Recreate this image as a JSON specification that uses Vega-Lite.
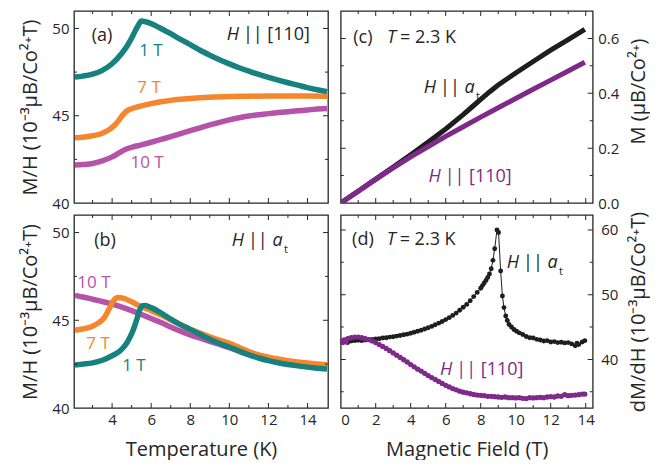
{
"$schema": "https://vega.github.io/schema/vega-lite/v6.json",
"padding": {"left": 20, "top": 10, "right": 0, "bottom": 0},
"background": "white",
"columns": 2,
"spacing": {"row": 12, "column": 12.7},
"bounds": "flush",
"config": {
 "font": "Open Sans",
 "view": {"stroke": "#262626", "strokeWidth": 1.3},
 "axis": {"domain": false, "grid": false, "ticks": false, "labelFont": "Open Sans", "labelFontSize": 15, "labelColor": "#262626", "titleFont": "Open Sans", "titleFontSize": 20, "titleFontWeight": "normal", "titleColor": "#262626"},
 "text": {"font": "Open Sans"}
},
"datasets": {
 "txab": [{"t":3,"k":"minor"},{"t":4,"k":"major"},{"t":5,"k":"minor"},{"t":6,"k":"major"},{"t":7,"k":"minor"},{"t":8,"k":"major"},{"t":9,"k":"minor"},{"t":10,"k":"major"},{"t":11,"k":"minor"},{"t":12,"k":"major"},{"t":13,"k":"minor"},{"t":14,"k":"major"}],
 "tyab": [{"t":42.5,"k":"minor"},{"t":45,"k":"major"},{"t":47.5,"k":"minor"},{"t":50,"k":"major"}],
 "txcd": [{"t":1,"k":"minor"},{"t":2,"k":"major"},{"t":3,"k":"minor"},{"t":4,"k":"major"},{"t":5,"k":"minor"},{"t":6,"k":"major"},{"t":7,"k":"minor"},{"t":8,"k":"major"},{"t":9,"k":"minor"},{"t":10,"k":"major"},{"t":11,"k":"minor"},{"t":12,"k":"major"},{"t":13,"k":"minor"},{"t":14,"k":"major"}],
 "tyc": [{"t":0.1,"k":"minor"},{"t":0.2,"k":"major"},{"t":0.3,"k":"minor"},{"t":0.4,"k":"major"},{"t":0.5,"k":"minor"},{"t":0.6,"k":"major"}],
 "tyd": [{"t":35,"k":"minor"},{"t":40,"k":"major"},{"t":45,"k":"minor"},{"t":50,"k":"major"},{"t":55,"k":"minor"},{"t":60,"k":"major"}],
 "a1": [{"T":2.1,"v":47.22},{"T":2.5,"v":47.27},{"T":3.0,"v":47.38},{"T":3.5,"v":47.6},{"T":4.0,"v":47.98},{"T":4.5,"v":48.58},{"T":4.8,"v":49.05},{"T":5.0,"v":49.45},{"T":5.2,"v":49.9},{"T":5.35,"v":50.2},{"T":5.5,"v":50.42},{"T":5.65,"v":50.4},{"T":6.0,"v":50.28},{"T":6.5,"v":50.0},{"T":7.0,"v":49.7},{"T":7.5,"v":49.38},{"T":8.0,"v":49.07},{"T":8.5,"v":48.75},{"T":9.0,"v":48.47},{"T":9.5,"v":48.21},{"T":10.0,"v":47.97},{"T":10.5,"v":47.75},{"T":11.0,"v":47.55},{"T":11.5,"v":47.37},{"T":12.0,"v":47.2},{"T":12.5,"v":47.04},{"T":13.0,"v":46.89},{"T":13.5,"v":46.75},{"T":14.0,"v":46.61},{"T":14.5,"v":46.49},{"T":15.0,"v":46.38}],
 "a7": [{"T":2.1,"v":43.74},{"T":2.5,"v":43.77},{"T":3.0,"v":43.85},{"T":3.5,"v":44.0},{"T":3.8,"v":44.17},{"T":4.1,"v":44.43},{"T":4.35,"v":44.75},{"T":4.55,"v":45.05},{"T":4.75,"v":45.27},{"T":5.0,"v":45.4},{"T":5.5,"v":45.56},{"T":6.0,"v":45.69},{"T":6.5,"v":45.8},{"T":7.0,"v":45.88},{"T":7.5,"v":45.94},{"T":8.0,"v":45.99},{"T":9.0,"v":46.06},{"T":10.0,"v":46.1},{"T":11.0,"v":46.12},{"T":12.0,"v":46.13},{"T":13.0,"v":46.13},{"T":14.0,"v":46.13},{"T":15.0,"v":46.12}],
 "a10": [{"T":2.1,"v":42.17},{"T":2.5,"v":42.2},{"T":3.0,"v":42.26},{"T":3.5,"v":42.41},{"T":4.0,"v":42.64},{"T":4.4,"v":42.9},{"T":4.7,"v":43.08},{"T":5.0,"v":43.19},{"T":5.5,"v":43.33},{"T":6.0,"v":43.48},{"T":6.5,"v":43.64},{"T":7.0,"v":43.8},{"T":7.5,"v":43.97},{"T":8.0,"v":44.14},{"T":8.5,"v":44.31},{"T":9.0,"v":44.47},{"T":9.5,"v":44.62},{"T":10.0,"v":44.76},{"T":10.5,"v":44.88},{"T":11.0,"v":44.98},{"T":11.5,"v":45.06},{"T":12.0,"v":45.12},{"T":12.5,"v":45.18},{"T":13.0,"v":45.23},{"T":13.5,"v":45.28},{"T":14.0,"v":45.33},{"T":14.5,"v":45.38},{"T":15.0,"v":45.42}],
 "b1": [{"T":2.1,"v":42.45},{"T":2.5,"v":42.5},{"T":3.0,"v":42.57},{"T":3.5,"v":42.72},{"T":4.0,"v":42.98},{"T":4.4,"v":43.25},{"T":4.7,"v":43.62},{"T":4.9,"v":44.0},{"T":5.1,"v":44.5},{"T":5.25,"v":45.0},{"T":5.4,"v":45.55},{"T":5.55,"v":45.83},{"T":5.7,"v":45.84},{"T":6.0,"v":45.72},{"T":6.5,"v":45.42},{"T":7.0,"v":45.07},{"T":7.5,"v":44.75},{"T":8.0,"v":44.48},{"T":8.5,"v":44.2},{"T":9.0,"v":43.92},{"T":9.5,"v":43.68},{"T":10.0,"v":43.48},{"T":10.5,"v":43.25},{"T":11.0,"v":43.03},{"T":11.5,"v":42.85},{"T":12.0,"v":42.7},{"T":12.5,"v":42.58},{"T":13.0,"v":42.48},{"T":13.5,"v":42.4},{"T":14.0,"v":42.33},{"T":14.5,"v":42.27},{"T":15.0,"v":42.22}],
 "b7": [{"T":2.1,"v":44.43},{"T":2.5,"v":44.5},{"T":3.0,"v":44.66},{"T":3.3,"v":44.85},{"T":3.6,"v":45.15},{"T":3.85,"v":45.65},{"T":4.0,"v":46.0},{"T":4.15,"v":46.22},{"T":4.3,"v":46.3},{"T":4.6,"v":46.25},{"T":5.0,"v":46.05},{"T":5.4,"v":45.82},{"T":6.0,"v":45.55},{"T":6.5,"v":45.3},{"T":7.0,"v":45.03},{"T":7.5,"v":44.75},{"T":8.0,"v":44.48},{"T":8.5,"v":44.27},{"T":9.0,"v":44.06},{"T":9.5,"v":43.87},{"T":10.0,"v":43.68},{"T":10.5,"v":43.45},{"T":11.0,"v":43.22},{"T":11.5,"v":43.03},{"T":12.0,"v":42.9},{"T":12.5,"v":42.79},{"T":13.0,"v":42.7},{"T":13.5,"v":42.62},{"T":14.0,"v":42.56},{"T":14.5,"v":42.51},{"T":15.0,"v":42.47}],
 "b10": [{"T":2.1,"v":46.42},{"T":2.5,"v":46.33},{"T":3.0,"v":46.2},{"T":3.5,"v":46.07},{"T":4.0,"v":45.92},{"T":4.5,"v":45.75},{"T":5.0,"v":45.55},{"T":5.5,"v":45.33},{"T":6.0,"v":45.1},{"T":6.5,"v":44.87},{"T":7.0,"v":44.62},{"T":7.5,"v":44.38},{"T":8.0,"v":44.17},{"T":8.5,"v":43.98},{"T":9.0,"v":43.8},{"T":9.5,"v":43.62},{"T":10.0,"v":43.44},{"T":10.5,"v":43.23},{"T":11.0,"v":43.05},{"T":11.5,"v":42.89},{"T":12.0,"v":42.76},{"T":12.5,"v":42.65},{"T":13.0,"v":42.56},{"T":13.5,"v":42.49},{"T":14.0,"v":42.43},{"T":14.5,"v":42.38},{"T":15.0,"v":42.34}],
 "cat": [{"B":0,"M":0},{"B":1,"M":0.043},{"B":2,"M":0.087},{"B":3,"M":0.131},{"B":4,"M":0.176},{"B":5,"M":0.222},{"B":6,"M":0.27},{"B":7,"M":0.322},{"B":7.5,"M":0.35},{"B":8,"M":0.378},{"B":8.5,"M":0.405},{"B":9,"M":0.43},{"B":9.5,"M":0.452},{"B":10,"M":0.474},{"B":11,"M":0.516},{"B":12,"M":0.557},{"B":13,"M":0.596},{"B":13.95,"M":0.633}],
 "c110": [{"B":0,"M":0},{"B":1,"M":0.0432},{"B":2,"M":0.0862},{"B":3,"M":0.128},{"B":4,"M":0.168},{"B":5,"M":0.206},{"B":6,"M":0.243},{"B":7,"M":0.278},{"B":8,"M":0.313},{"B":9,"M":0.347},{"B":10,"M":0.381},{"B":11,"M":0.415},{"B":12,"M":0.448},{"B":13,"M":0.481},{"B":13.95,"M":0.513}],
 "dat": [{"B":0.0,"v":42.7},{"B":0.2,"v":42.9},{"B":0.4,"v":42.6},{"B":0.6,"v":42.85},{"B":0.8,"v":42.9},{"B":1.0,"v":42.95},{"B":1.2,"v":42.9},{"B":1.4,"v":43.0},{"B":1.6,"v":43.05},{"B":1.8,"v":43.1},{"B":2.0,"v":43.15},{"B":2.2,"v":43.2},{"B":2.4,"v":43.3},{"B":2.6,"v":43.35},{"B":2.8,"v":43.45},{"B":3.0,"v":43.5},{"B":3.2,"v":43.6},{"B":3.4,"v":43.7},{"B":3.6,"v":43.8},{"B":3.8,"v":43.9},{"B":4.0,"v":44.05},{"B":4.2,"v":44.2},{"B":4.4,"v":44.35},{"B":4.6,"v":44.5},{"B":4.8,"v":44.7},{"B":5.0,"v":44.9},{"B":5.2,"v":45.1},{"B":5.4,"v":45.35},{"B":5.6,"v":45.6},{"B":5.8,"v":45.85},{"B":6.0,"v":46.15},{"B":6.2,"v":46.45},{"B":6.4,"v":46.8},{"B":6.6,"v":47.15},{"B":6.8,"v":47.6},{"B":7.0,"v":48.05},{"B":7.2,"v":48.5},{"B":7.4,"v":49.05},{"B":7.6,"v":49.7},{"B":7.8,"v":50.35},{"B":8.0,"v":51.0},{"B":8.1,"v":51.4},{"B":8.2,"v":51.8},{"B":8.3,"v":52.2},{"B":8.4,"v":52.65},{"B":8.5,"v":53.2},{"B":8.6,"v":54.0},{"B":8.7,"v":55.3},{"B":8.8,"v":57.1},{"B":8.93,"v":60.0},{"B":9.02,"v":59.6},{"B":9.14,"v":53.65},{"B":9.24,"v":49.8},{"B":9.33,"v":48.0},{"B":9.43,"v":46.7},{"B":9.52,"v":46.0},{"B":9.62,"v":45.4},{"B":9.76,"v":45.0},{"B":9.9,"v":44.63},{"B":10.05,"v":44.35},{"B":10.2,"v":44.1},{"B":10.4,"v":43.85},{"B":10.6,"v":43.55},{"B":10.8,"v":43.35},{"B":11.0,"v":43.3},{"B":11.2,"v":43.1},{"B":11.4,"v":43.0},{"B":11.6,"v":42.85},{"B":11.8,"v":42.9},{"B":12.0,"v":42.7},{"B":12.2,"v":42.75},{"B":12.4,"v":42.6},{"B":12.6,"v":42.65},{"B":12.8,"v":42.55},{"B":13.0,"v":42.6},{"B":13.2,"v":42.4},{"B":13.4,"v":42.1},{"B":13.5,"v":42.5},{"B":13.6,"v":42.3},{"B":13.8,"v":42.7},{"B":13.95,"v":42.9}],
 "d110": [{"B":0.0,"v":42.85},{"B":0.1,"v":42.6},{"B":0.2,"v":43.0},{"B":0.3,"v":42.7},{"B":0.4,"v":43.2},{"B":0.6,"v":43.35},{"B":0.8,"v":43.45},{"B":1.0,"v":43.45},{"B":1.2,"v":43.35},{"B":1.4,"v":43.2},{"B":1.6,"v":43.05},{"B":1.8,"v":42.85},{"B":2.0,"v":42.6},{"B":2.2,"v":42.3},{"B":2.4,"v":42.0},{"B":2.6,"v":41.7},{"B":2.8,"v":41.35},{"B":3.0,"v":41.0},{"B":3.2,"v":40.65},{"B":3.4,"v":40.3},{"B":3.6,"v":39.95},{"B":3.8,"v":39.6},{"B":4.0,"v":39.2},{"B":4.2,"v":38.85},{"B":4.4,"v":38.5},{"B":4.6,"v":38.2},{"B":4.8,"v":37.85},{"B":5.0,"v":37.5},{"B":5.2,"v":37.2},{"B":5.4,"v":36.9},{"B":5.6,"v":36.6},{"B":5.8,"v":36.3},{"B":6.0,"v":36.0},{"B":6.2,"v":35.75},{"B":6.4,"v":35.5},{"B":6.6,"v":35.3},{"B":6.8,"v":35.1},{"B":7.0,"v":34.95},{"B":7.2,"v":34.85},{"B":7.4,"v":34.7},{"B":7.6,"v":34.6},{"B":7.8,"v":34.5},{"B":8.0,"v":34.45},{"B":8.2,"v":34.4},{"B":8.4,"v":34.3},{"B":8.6,"v":34.3},{"B":8.8,"v":34.25},{"B":9.0,"v":34.2},{"B":9.2,"v":34.15},{"B":9.4,"v":34.2},{"B":9.6,"v":34.1},{"B":9.8,"v":34.1},{"B":10.0,"v":34.05},{"B":10.2,"v":34.1},{"B":10.4,"v":34.0},{"B":10.6,"v":33.95},{"B":10.8,"v":34.1},{"B":11.0,"v":34.05},{"B":11.2,"v":34.1},{"B":11.4,"v":34.15},{"B":11.6,"v":34.1},{"B":11.8,"v":34.2},{"B":12.0,"v":34.25},{"B":12.2,"v":34.2},{"B":12.4,"v":34.35},{"B":12.6,"v":34.3},{"B":12.8,"v":34.55},{"B":13.0,"v":34.4},{"B":13.2,"v":34.45},{"B":13.4,"v":34.5},{"B":13.6,"v":34.55},{"B":13.8,"v":34.65},{"B":13.95,"v":34.65}]
},
"concat": [
 {
  "width": 254, "height": 192,
  "layer": [
   {"data": {"name": "a10"}, "mark": {"type": "line", "strokeWidth": 5.5, "color": "#b553a9", "interpolate": "monotone", "clip": true},
    "encoding": {
     "x": {"field": "T", "type": "quantitative", "scale": {"domain": [2.05, 15.05], "nice": false, "zero": false}, "axis": null},
     "y": {"field": "v", "type": "quantitative", "scale": {"domain": [40, 51], "nice": false, "zero": false}, "axis": {"orient": "left", "values": [40, 45, 50], "labelPadding": 5, "title": "M/H (10⁻³μB/Co²⁺T)", "titlePadding": 11}}}},
   {"data": {"name": "a7"}, "mark": {"type": "line", "strokeWidth": 5.5, "color": "#f5862d", "interpolate": "monotone", "clip": true},
    "encoding": {"x": {"field": "T", "type": "quantitative", "axis": null}, "y": {"field": "v", "type": "quantitative", "axis": null}}},
   {"data": {"name": "a1"}, "mark": {"type": "line", "strokeWidth": 5.5, "color": "#16817f", "interpolate": "monotone", "clip": true},
    "encoding": {"x": {"field": "T", "type": "quantitative", "axis": null}, "y": {"field": "v", "type": "quantitative", "axis": null}}},
   {"data": {"name": "txab"}, "mark": {"type": "tick", "orient": "vertical", "thickness": 1, "color": "#262626", "opacity": 1, "clip": true},
    "encoding": {"x": {"field": "t", "type": "quantitative", "axis": null}, "y": {"datum": 40, "type": "quantitative", "axis": null}, "size": {"field": "k", "type": "ordinal", "scale": {"domain": ["major", "minor"], "range": [10, 6]}, "legend": null}}},
   {"data": {"name": "txab"}, "mark": {"type": "tick", "orient": "vertical", "thickness": 1, "color": "#262626", "opacity": 1, "clip": true},
    "encoding": {"x": {"field": "t", "type": "quantitative", "axis": null}, "y": {"datum": 51, "type": "quantitative", "axis": null}, "size": {"field": "k", "type": "ordinal", "scale": {"domain": ["major", "minor"], "range": [10, 6]}, "legend": null}}},
   {"data": {"name": "tyab"}, "mark": {"type": "tick", "orient": "horizontal", "thickness": 1, "color": "#262626", "opacity": 1, "clip": true},
    "encoding": {"y": {"field": "t", "type": "quantitative", "axis": null}, "x": {"datum": 2.05, "type": "quantitative", "axis": null}, "size": {"field": "k", "type": "ordinal", "scale": {"domain": ["major", "minor"], "range": [10, 6]}, "legend": null}}},
   {"data": {"name": "tyab"}, "mark": {"type": "tick", "orient": "horizontal", "thickness": 1, "color": "#262626", "opacity": 1, "clip": true},
    "encoding": {"y": {"field": "t", "type": "quantitative", "axis": null}, "x": {"datum": 15.05, "type": "quantitative", "axis": null}, "size": {"field": "k", "type": "ordinal", "scale": {"domain": ["major", "minor"], "range": [10, 6]}, "legend": null}}},
   {"data": {"values": [{}]}, "mark": {"type": "text", "fontSize": 18, "color": "#262626"}, "encoding": {"x": {"datum": 3.48, "type": "quantitative", "axis": null}, "y": {"datum": 49.55, "type": "quantitative", "axis": null}, "text": {"value": "(a)"}}},
   {"data": {"values": [{}]}, "mark": {"type": "text", "fontSize": 18, "color": "#262626", "fontStyle": "italic", "align": "right"}, "encoding": {"x": {"datum": 10.49, "type": "quantitative", "axis": null}, "y": {"datum": 49.61, "type": "quantitative", "axis": null}, "text": {"value": "H"}}},
   {"data": {"values": [{}]}, "mark": {"type": "text", "fontSize": 18, "color": "#262626", "align": "left", "dx": 4}, "encoding": {"x": {"datum": 10.49, "type": "quantitative", "axis": null}, "y": {"datum": 49.61, "type": "quantitative", "axis": null}, "text": {"value": "|| [110]"}}},
   {"data": {"values": [{}]}, "mark": {"type": "text", "fontSize": 17, "color": "#16817f"}, "encoding": {"x": {"datum": 5.99, "type": "quantitative", "axis": null}, "y": {"datum": 48.69, "type": "quantitative", "axis": null}, "text": {"value": "1 T"}}},
   {"data": {"values": [{}]}, "mark": {"type": "text", "fontSize": 17, "color": "#f5862d"}, "encoding": {"x": {"datum": 5.89, "type": "quantitative", "axis": null}, "y": {"datum": 46.57, "type": "quantitative", "axis": null}, "text": {"value": "7 T"}}},
   {"data": {"values": [{}]}, "mark": {"type": "text", "fontSize": 17, "color": "#b553a9"}, "encoding": {"x": {"datum": 5.79, "type": "quantitative", "axis": null}, "y": {"datum": 42.28, "type": "quantitative", "axis": null}, "text": {"value": "10 T"}}}
  ],
  "resolve": {"axis": {"x": "independent", "y": "independent"}}
 },
 {
  "width": 252, "height": 192,
  "layer": [
   {"data": {"name": "cat"}, "mark": {"type": "line", "strokeWidth": 5, "color": "#1e1e1e", "clip": true},
    "encoding": {
     "x": {"field": "B", "type": "quantitative", "scale": {"domain": [0, 14.4], "nice": false, "zero": false}, "axis": null},
     "y": {"field": "M", "type": "quantitative", "scale": {"domain": [0, 0.7], "nice": false, "zero": false}, "axis": {"orient": "right", "values": [0, 0.2, 0.4, 0.6], "format": ".1f", "labelPadding": 5, "title": "M (μB/Co²⁺)", "titleAngle": 270, "titleBaseline": "top", "titlePadding": 10, "titleY": 80}}}},
   {"data": {"name": "c110"}, "mark": {"type": "line", "strokeWidth": 5, "color": "#7d2a8b", "clip": true},
    "encoding": {"x": {"field": "B", "type": "quantitative", "axis": null}, "y": {"field": "M", "type": "quantitative", "axis": null}}},
   {"data": {"name": "txcd"}, "mark": {"type": "tick", "orient": "vertical", "thickness": 1, "color": "#262626", "opacity": 1, "clip": true},
    "encoding": {"x": {"field": "t", "type": "quantitative", "axis": null}, "y": {"datum": 0, "type": "quantitative", "axis": null}, "size": {"field": "k", "type": "ordinal", "scale": {"domain": ["major", "minor"], "range": [10, 6]}, "legend": null}}},
   {"data": {"name": "txcd"}, "mark": {"type": "tick", "orient": "vertical", "thickness": 1, "color": "#262626", "opacity": 1, "clip": true},
    "encoding": {"x": {"field": "t", "type": "quantitative", "axis": null}, "y": {"datum": 0.7, "type": "quantitative", "axis": null}, "size": {"field": "k", "type": "ordinal", "scale": {"domain": ["major", "minor"], "range": [10, 6]}, "legend": null}}},
   {"data": {"name": "tyc"}, "mark": {"type": "tick", "orient": "horizontal", "thickness": 1, "color": "#262626", "opacity": 1, "clip": true},
    "encoding": {"y": {"field": "t", "type": "quantitative", "axis": null}, "x": {"datum": 0, "type": "quantitative", "axis": null}, "size": {"field": "k", "type": "ordinal", "scale": {"domain": ["major", "minor"], "range": [10, 6]}, "legend": null}}},
   {"data": {"name": "tyc"}, "mark": {"type": "tick", "orient": "horizontal", "thickness": 1, "color": "#262626", "opacity": 1, "clip": true},
    "encoding": {"y": {"field": "t", "type": "quantitative", "axis": null}, "x": {"datum": 14.4, "type": "quantitative", "axis": null}, "size": {"field": "k", "type": "ordinal", "scale": {"domain": ["major", "minor"], "range": [10, 6]}, "legend": null}}},
   {"data": {"values": [{}]}, "mark": {"type": "text", "fontSize": 18, "color": "#262626"}, "encoding": {"x": {"datum": 1.27, "type": "quantitative", "axis": null}, "y": {"datum": 0.601, "type": "quantitative", "axis": null}, "text": {"value": "(c)"}}},
   {"data": {"values": [{}]}, "mark": {"type": "text", "fontSize": 18, "color": "#262626", "fontStyle": "italic", "align": "right"}, "encoding": {"x": {"datum": 3.16, "type": "quantitative", "axis": null}, "y": {"datum": 0.601, "type": "quantitative", "axis": null}, "text": {"value": "T"}}},
   {"data": {"values": [{}]}, "mark": {"type": "text", "fontSize": 18, "color": "#262626", "align": "left", "dx": 4}, "encoding": {"x": {"datum": 3.16, "type": "quantitative", "axis": null}, "y": {"datum": 0.601, "type": "quantitative", "axis": null}, "text": {"value": "= 2.3 K"}}},
   {"data": {"values": [{}]}, "mark": {"type": "text", "fontSize": 18, "color": "#1e1e1e", "fontStyle": "italic", "align": "right"}, "encoding": {"x": {"datum": 5.45, "type": "quantitative", "axis": null}, "y": {"datum": 0.419, "type": "quantitative", "axis": null}, "text": {"value": "H"}}},
   {"data": {"values": [{}]}, "mark": {"type": "text", "fontSize": 18, "color": "#1e1e1e", "align": "left", "dx": 4}, "encoding": {"x": {"datum": 5.45, "type": "quantitative", "axis": null}, "y": {"datum": 0.419, "type": "quantitative", "axis": null}, "text": {"value": "||"}}},
   {"data": {"values": [{}]}, "mark": {"type": "text", "fontSize": 18, "color": "#1e1e1e", "fontStyle": "italic", "align": "left", "dx": 28.5}, "encoding": {"x": {"datum": 5.45, "type": "quantitative", "axis": null}, "y": {"datum": 0.419, "type": "quantitative", "axis": null}, "text": {"value": "a"}}},
   {"data": {"values": [{}]}, "mark": {"type": "text", "fontSize": 11, "color": "#1e1e1e", "align": "left", "dx": 40, "dy": 9}, "encoding": {"x": {"datum": 5.45, "type": "quantitative", "axis": null}, "y": {"datum": 0.419, "type": "quantitative", "axis": null}, "text": {"value": "t"}}},
   {"data": {"values": [{}]}, "mark": {"type": "text", "fontSize": 18, "color": "#7d2a8b", "fontStyle": "italic", "align": "right"}, "encoding": {"x": {"datum": 5.71, "type": "quantitative", "axis": null}, "y": {"datum": 0.094, "type": "quantitative", "axis": null}, "text": {"value": "H"}}},
   {"data": {"values": [{}]}, "mark": {"type": "text", "fontSize": 18, "color": "#7d2a8b", "align": "left", "dx": 4}, "encoding": {"x": {"datum": 5.71, "type": "quantitative", "axis": null}, "y": {"datum": 0.094, "type": "quantitative", "axis": null}, "text": {"value": "|| [110]"}}}
  ],
  "resolve": {"axis": {"x": "independent", "y": "independent"}}
 },
 {
  "width": 254, "height": 193,
  "layer": [
   {"data": {"name": "b10"}, "mark": {"type": "line", "strokeWidth": 5.5, "color": "#b553a9", "interpolate": "monotone", "clip": true},
    "encoding": {
     "x": {"field": "T", "type": "quantitative", "scale": {"domain": [2.05, 15.05], "nice": false, "zero": false}, "axis": {"orient": "bottom", "values": [4, 6, 8, 10, 12, 14], "labelPadding": 4, "title": "Temperature (K)", "titlePadding": 12}},
     "y": {"field": "v", "type": "quantitative", "scale": {"domain": [40, 51], "nice": false, "zero": false}, "axis": {"orient": "left", "values": [40, 45, 50], "labelPadding": 5, "title": "M/H (10⁻³μB/Co²⁺T)", "titlePadding": 11}}}},
   {"data": {"name": "b7"}, "mark": {"type": "line", "strokeWidth": 5.5, "color": "#f5862d", "interpolate": "monotone", "clip": true},
    "encoding": {"x": {"field": "T", "type": "quantitative", "axis": null}, "y": {"field": "v", "type": "quantitative", "axis": null}}},
   {"data": {"name": "b1"}, "mark": {"type": "line", "strokeWidth": 5.5, "color": "#16817f", "interpolate": "monotone", "clip": true},
    "encoding": {"x": {"field": "T", "type": "quantitative", "axis": null}, "y": {"field": "v", "type": "quantitative", "axis": null}}},
   {"data": {"name": "txab"}, "mark": {"type": "tick", "orient": "vertical", "thickness": 1, "color": "#262626", "opacity": 1, "clip": true},
    "encoding": {"x": {"field": "t", "type": "quantitative", "axis": null}, "y": {"datum": 40, "type": "quantitative", "axis": null}, "size": {"field": "k", "type": "ordinal", "scale": {"domain": ["major", "minor"], "range": [10, 6]}, "legend": null}}},
   {"data": {"name": "txab"}, "mark": {"type": "tick", "orient": "vertical", "thickness": 1, "color": "#262626", "opacity": 1, "clip": true},
    "encoding": {"x": {"field": "t", "type": "quantitative", "axis": null}, "y": {"datum": 51, "type": "quantitative", "axis": null}, "size": {"field": "k", "type": "ordinal", "scale": {"domain": ["major", "minor"], "range": [10, 6]}, "legend": null}}},
   {"data": {"name": "tyab"}, "mark": {"type": "tick", "orient": "horizontal", "thickness": 1, "color": "#262626", "opacity": 1, "clip": true},
    "encoding": {"y": {"field": "t", "type": "quantitative", "axis": null}, "x": {"datum": 2.05, "type": "quantitative", "axis": null}, "size": {"field": "k", "type": "ordinal", "scale": {"domain": ["major", "minor"], "range": [10, 6]}, "legend": null}}},
   {"data": {"name": "tyab"}, "mark": {"type": "tick", "orient": "horizontal", "thickness": 1, "color": "#262626", "opacity": 1, "clip": true},
    "encoding": {"y": {"field": "t", "type": "quantitative", "axis": null}, "x": {"datum": 15.05, "type": "quantitative", "axis": null}, "size": {"field": "k", "type": "ordinal", "scale": {"domain": ["major", "minor"], "range": [10, 6]}, "legend": null}}},
   {"data": {"values": [{}]}, "mark": {"type": "text", "fontSize": 18, "color": "#262626"}, "encoding": {"x": {"datum": 3.64, "type": "quantitative", "axis": null}, "y": {"datum": 49.53, "type": "quantitative", "axis": null}, "text": {"value": "(b)"}}},
   {"data": {"values": [{}]}, "mark": {"type": "text", "fontSize": 18, "color": "#262626", "fontStyle": "italic", "align": "right"}, "encoding": {"x": {"datum": 10.75, "type": "quantitative", "axis": null}, "y": {"datum": 49.53, "type": "quantitative", "axis": null}, "text": {"value": "H"}}},
   {"data": {"values": [{}]}, "mark": {"type": "text", "fontSize": 18, "color": "#262626", "align": "left", "dx": 4}, "encoding": {"x": {"datum": 10.75, "type": "quantitative", "axis": null}, "y": {"datum": 49.53, "type": "quantitative", "axis": null}, "text": {"value": "||"}}},
   {"data": {"values": [{}]}, "mark": {"type": "text", "fontSize": 18, "color": "#262626", "fontStyle": "italic", "align": "left", "dx": 28.5}, "encoding": {"x": {"datum": 10.75, "type": "quantitative", "axis": null}, "y": {"datum": 49.53, "type": "quantitative", "axis": null}, "text": {"value": "a"}}},
   {"data": {"values": [{}]}, "mark": {"type": "text", "fontSize": 11, "color": "#262626", "align": "left", "dx": 40, "dy": 9}, "encoding": {"x": {"datum": 10.75, "type": "quantitative", "axis": null}, "y": {"datum": 49.53, "type": "quantitative", "axis": null}, "text": {"value": "t"}}},
   {"data": {"values": [{}]}, "mark": {"type": "text", "fontSize": 17, "color": "#b553a9"}, "encoding": {"x": {"datum": 3.07, "type": "quantitative", "axis": null}, "y": {"datum": 47.13, "type": "quantitative", "axis": null}, "text": {"value": "10 T"}}},
   {"data": {"values": [{}]}, "mark": {"type": "text", "fontSize": 17, "color": "#f5862d"}, "encoding": {"x": {"datum": 3.28, "type": "quantitative", "axis": null}, "y": {"datum": 43.64, "type": "quantitative", "axis": null}, "text": {"value": "7 T"}}},
   {"data": {"values": [{}]}, "mark": {"type": "text", "fontSize": 17, "color": "#16817f"}, "encoding": {"x": {"datum": 5.12, "type": "quantitative", "axis": null}, "y": {"datum": 42.38, "type": "quantitative", "axis": null}, "text": {"value": "1 T"}}}
  ],
  "resolve": {"axis": {"x": "independent", "y": "independent"}}
 },
 {
  "width": 252, "height": 193,
  "layer": [
   {"data": {"name": "dat"}, "mark": {"type": "line", "strokeWidth": 1, "color": "#1e1e1e", "clip": true},
    "encoding": {
     "x": {"field": "B", "type": "quantitative", "scale": {"domain": [0, 14.4], "nice": false, "zero": false}, "axis": {"orient": "bottom", "values": [0, 2, 4, 6, 8, 10, 12, 14], "labelPadding": 4, "title": "Magnetic Field (T)", "titlePadding": 12}},
     "y": {"field": "v", "type": "quantitative", "scale": {"domain": [32.5, 62.3], "nice": false, "zero": false}, "axis": {"orient": "right", "values": [40, 50, 60], "labelPadding": 8, "title": "dM/dH (10⁻³μB/Co²⁺T)", "titleAngle": 270, "titleBaseline": "top", "titlePadding": 11}}}},
   {"data": {"name": "dat"}, "mark": {"type": "circle", "size": 24, "opacity": 1, "color": "#1e1e1e", "clip": true},
    "encoding": {"x": {"field": "B", "type": "quantitative", "axis": null}, "y": {"field": "v", "type": "quantitative", "axis": null}}},
   {"data": {"name": "d110"}, "mark": {"type": "line", "strokeWidth": 2.5, "color": "#7d2a8b", "clip": true},
    "encoding": {"x": {"field": "B", "type": "quantitative", "axis": null}, "y": {"field": "v", "type": "quantitative", "axis": null}}},
   {"data": {"name": "d110"}, "mark": {"type": "circle", "size": 28, "opacity": 1, "color": "#7d2a8b", "clip": true},
    "encoding": {"x": {"field": "B", "type": "quantitative", "axis": null}, "y": {"field": "v", "type": "quantitative", "axis": null}}},
   {"data": {"name": "txcd"}, "mark": {"type": "tick", "orient": "vertical", "thickness": 1, "color": "#262626", "opacity": 1, "clip": true},
    "encoding": {"x": {"field": "t", "type": "quantitative", "axis": null}, "y": {"datum": 32.5, "type": "quantitative", "axis": null}, "size": {"field": "k", "type": "ordinal", "scale": {"domain": ["major", "minor"], "range": [10, 6]}, "legend": null}}},
   {"data": {"name": "txcd"}, "mark": {"type": "tick", "orient": "vertical", "thickness": 1, "color": "#262626", "opacity": 1, "clip": true},
    "encoding": {"x": {"field": "t", "type": "quantitative", "axis": null}, "y": {"datum": 62.3, "type": "quantitative", "axis": null}, "size": {"field": "k", "type": "ordinal", "scale": {"domain": ["major", "minor"], "range": [10, 6]}, "legend": null}}},
   {"data": {"name": "tyd"}, "mark": {"type": "tick", "orient": "horizontal", "thickness": 1, "color": "#262626", "opacity": 1, "clip": true},
    "encoding": {"y": {"field": "t", "type": "quantitative", "axis": null}, "x": {"datum": 0, "type": "quantitative", "axis": null}, "size": {"field": "k", "type": "ordinal", "scale": {"domain": ["major", "minor"], "range": [10, 6]}, "legend": null}}},
   {"data": {"name": "tyd"}, "mark": {"type": "tick", "orient": "horizontal", "thickness": 1, "color": "#262626", "opacity": 1, "clip": true},
    "encoding": {"y": {"field": "t", "type": "quantitative", "axis": null}, "x": {"datum": 14.4, "type": "quantitative", "axis": null}, "size": {"field": "k", "type": "ordinal", "scale": {"domain": ["major", "minor"], "range": [10, 6]}, "legend": null}}},
   {"data": {"values": [{}]}, "mark": {"type": "text", "fontSize": 18, "color": "#262626"}, "encoding": {"x": {"datum": 1.27, "type": "quantitative", "axis": null}, "y": {"datum": 58.44, "type": "quantitative", "axis": null}, "text": {"value": "(d)"}}},
   {"data": {"values": [{}]}, "mark": {"type": "text", "fontSize": 18, "color": "#262626", "fontStyle": "italic", "align": "right"}, "encoding": {"x": {"datum": 3.14, "type": "quantitative", "axis": null}, "y": {"datum": 58.44, "type": "quantitative", "axis": null}, "text": {"value": "T"}}},
   {"data": {"values": [{}]}, "mark": {"type": "text", "fontSize": 18, "color": "#262626", "align": "left", "dx": 4}, "encoding": {"x": {"datum": 3.14, "type": "quantitative", "axis": null}, "y": {"datum": 58.44, "type": "quantitative", "axis": null}, "text": {"value": "= 2.3 K"}}},
   {"data": {"values": [{}]}, "mark": {"type": "text", "fontSize": 18, "color": "#1e1e1e", "fontStyle": "italic", "align": "right"}, "encoding": {"x": {"datum": 10.19, "type": "quantitative", "axis": null}, "y": {"datum": 54.88, "type": "quantitative", "axis": null}, "text": {"value": "H"}}},
   {"data": {"values": [{}]}, "mark": {"type": "text", "fontSize": 18, "color": "#1e1e1e", "align": "left", "dx": 4}, "encoding": {"x": {"datum": 10.19, "type": "quantitative", "axis": null}, "y": {"datum": 54.88, "type": "quantitative", "axis": null}, "text": {"value": "||"}}},
   {"data": {"values": [{}]}, "mark": {"type": "text", "fontSize": 18, "color": "#1e1e1e", "fontStyle": "italic", "align": "left", "dx": 28.5}, "encoding": {"x": {"datum": 10.19, "type": "quantitative", "axis": null}, "y": {"datum": 54.88, "type": "quantitative", "axis": null}, "text": {"value": "a"}}},
   {"data": {"values": [{}]}, "mark": {"type": "text", "fontSize": 11, "color": "#1e1e1e", "align": "left", "dx": 40, "dy": 9}, "encoding": {"x": {"datum": 10.19, "type": "quantitative", "axis": null}, "y": {"datum": 54.88, "type": "quantitative", "axis": null}, "text": {"value": "t"}}},
   {"data": {"values": [{}]}, "mark": {"type": "text", "fontSize": 18, "color": "#7d2a8b", "fontStyle": "italic", "align": "right"}, "encoding": {"x": {"datum": 6.38, "type": "quantitative", "axis": null}, "y": {"datum": 38.35, "type": "quantitative", "axis": null}, "text": {"value": "H"}}},
   {"data": {"values": [{}]}, "mark": {"type": "text", "fontSize": 18, "color": "#7d2a8b", "align": "left", "dx": 4}, "encoding": {"x": {"datum": 6.38, "type": "quantitative", "axis": null}, "y": {"datum": 38.35, "type": "quantitative", "axis": null}, "text": {"value": "|| [110]"}}}
  ],
  "resolve": {"axis": {"x": "independent", "y": "independent"}}
 }
]
}
